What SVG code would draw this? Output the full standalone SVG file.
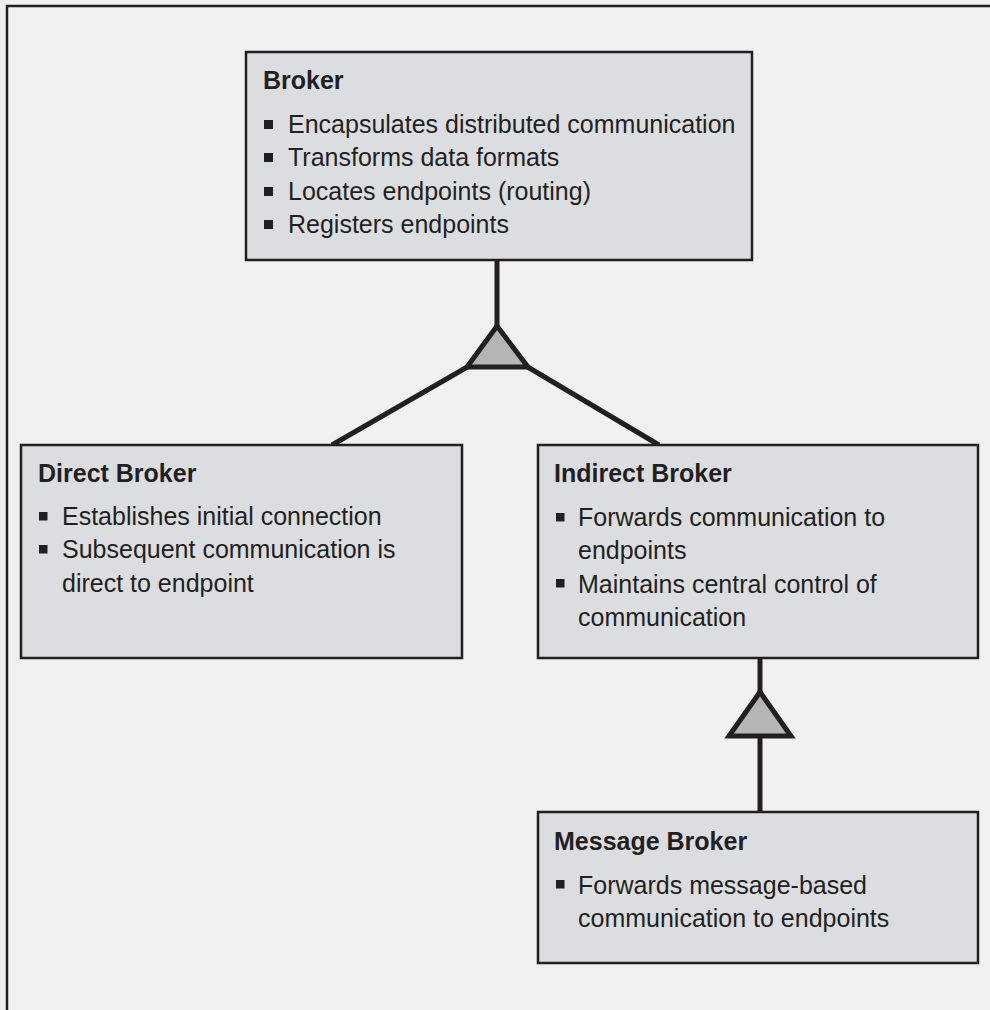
<svg xmlns="http://www.w3.org/2000/svg" width="990" height="1010" viewBox="0 0 990 1010">
<style>
.box{fill:#dcdde0;stroke:#231f20;stroke-width:2.5}
.t{font-family:"Liberation Sans",Arial,sans-serif;font-size:25px;fill:#231f20}
.b{font-weight:bold}
.bul{fill:#231f20}
.con{stroke:#231f20;stroke-width:5;fill:none}
.tri{fill:#b4b5b7;stroke:#231f20;stroke-width:5;stroke-linejoin:miter}
</style>
<rect x="0" y="0" width="990" height="1010" fill="#f0f0f0"/>
<path d="M7,1010 V6 H990" fill="none" stroke="#231f20" stroke-width="2.5"/>
<g id="connectors">
<line class="con" x1="497" y1="260" x2="497" y2="326"/>
<line class="con" x1="469" y1="366" x2="332" y2="445"/>
<line class="con" x1="526" y1="366" x2="659" y2="445"/>
<polygon class="tri" points="497,326 467,367 528,367"/>
<line class="con" x1="760" y1="658" x2="760" y2="692"/>
<line class="con" x1="760" y1="736" x2="760" y2="812"/>
<polygon class="tri" points="760,692 729,736 791,736"/>
</g>
<g id="broker">
<rect class="box" x="246" y="52" width="506" height="208"/>
<text class="t b" x="263" y="89">Broker</text>
<rect class="bul" x="264" y="120" width="9" height="9"/>
<text class="t" x="288" y="133">Encapsulates distributed communication</text>
<rect class="bul" x="264" y="153" width="9" height="9"/>
<text class="t" x="288" y="166">Transforms data formats</text>
<rect class="bul" x="264" y="187" width="9" height="9"/>
<text class="t" x="288" y="199.5">Locates endpoints (routing)</text>
<rect class="bul" x="264" y="220" width="9" height="9"/>
<text class="t" x="288" y="232.5">Registers endpoints</text>
</g>
<g id="direct-broker">
<rect class="box" x="21" y="445" width="441" height="213"/>
<text class="t b" x="38" y="482">Direct Broker</text>
<rect class="bul" x="39" y="512" width="8.5" height="8.5"/>
<text class="t" x="62" y="525">Establishes initial connection</text>
<rect class="bul" x="39" y="545" width="8.5" height="8.5"/>
<text class="t" x="62" y="558.3">Subsequent communication is</text>
<text class="t" x="62" y="591.7">direct to endpoint</text>
</g>
<g id="indirect-broker">
<rect class="box" x="538" y="445" width="440" height="213"/>
<text class="t b" x="554" y="482">Indirect Broker</text>
<rect class="bul" x="556" y="513" width="8.5" height="8.5"/>
<text class="t" x="578" y="526">Forwards communication to</text>
<text class="t" x="578" y="559">endpoints</text>
<rect class="bul" x="556" y="579" width="8.5" height="8.5"/>
<text class="t" x="578" y="592.5">Maintains central control of</text>
<text class="t" x="578" y="625.5">communication</text>
</g>
<g id="message-broker">
<rect class="box" x="538" y="812" width="440" height="151"/>
<text class="t b" x="554" y="849.5">Message Broker</text>
<rect class="bul" x="556" y="880" width="8.5" height="8.5"/>
<text class="t" x="578" y="893.5">Forwards message-based</text>
<text class="t" x="578" y="927">communication to endpoints</text>
</g>
</svg>
